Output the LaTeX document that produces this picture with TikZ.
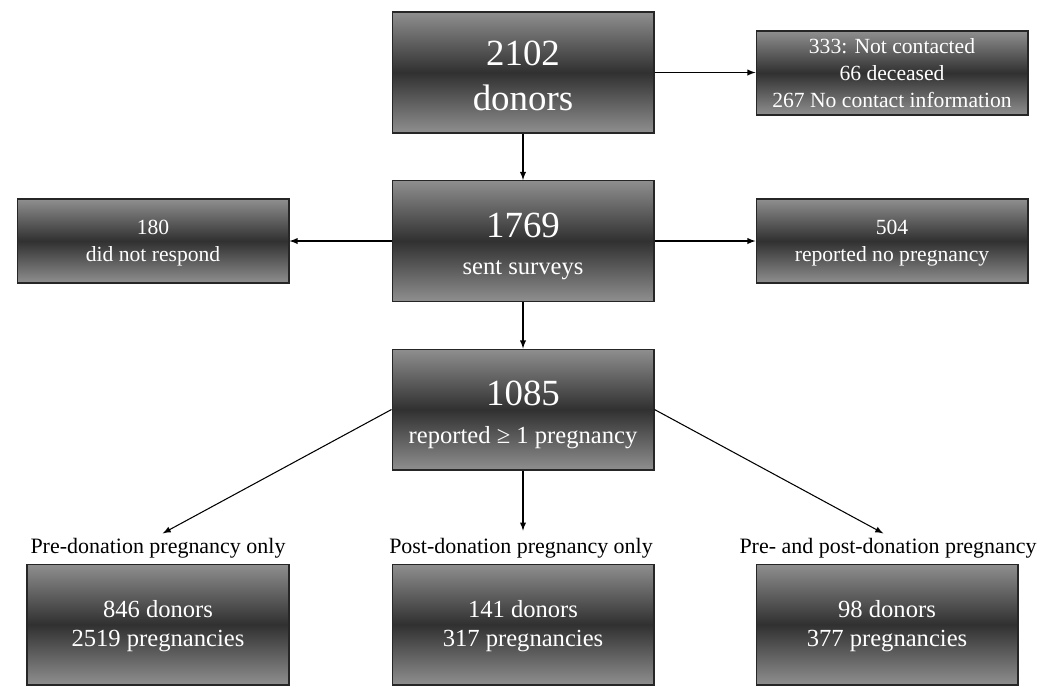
\documentclass[tikz,border=0pt]{standalone}
\usepackage{fontspec}
\setmainfont{Liberation Serif}
\usepackage{tikz}
\usetikzlibrary{arrows,positioning}
\definecolor{boxedge}{gray}{0.56}
\definecolor{boxcore}{gray}{0.19}

\begin{document}
\begin{tikzpicture}[x=0.02cm,y=-0.02cm,
  box/.style={draw=black!85,line width=0.6pt,top color=boxedge,bottom color=boxedge,
    middle color=boxcore,text=white,align=center,inner sep=0pt},
  bigbox/.style={box,minimum width=5.24cm,minimum height=2.42cm,
    font=\fontsize{14}{16.5}\selectfont},
  sidebox/.style={box,minimum width=5.44cm,minimum height=1.68cm,
    font=\fontsize{12.3}{15.5}\selectfont},
  grouplabel/.style={font=\fontsize{12.5}{15}\selectfont,inner sep=1pt},
  arr/.style={-latex,line width=0.6pt}
]
\useasboundingbox (0,0) rectangle (1050,698);

% main column
\node[bigbox,font=\fontsize{21}{26}\selectfont] (donors) at (523,72.5) {\rule{0pt}{18pt}2102\\donors};
\node[bigbox] (sent) at (523,241) {\rule{0pt}{20pt}{\fontsize{21}{25.5}\selectfont 1769}\\[5pt]sent surveys};
\node[bigbox] (reported) at (523,409.5) {\rule{0pt}{20pt}{\fontsize{21}{25.5}\selectfont 1085}\\[5pt]reported ≥ 1 pregnancy};

% side boxes
\node[sidebox,minimum width=5.44cm] (notcontacted) at (892,73)
  {333: Not contacted\\66 deceased\\267 No contact information};
\node[sidebox] (noresponse) at (153,241) {\rule{0pt}{11pt}180\\did not respond};
\node[sidebox] (nopregnancy) at (892,241) {\rule{0pt}{11pt}504\\reported no pregnancy};

% groups
\node[grouplabel] (prelabel) at (158,548) {Pre-donation pregnancy only};
\node[grouplabel] (postlabel) at (521,548) {Post-donation pregnancy only};
\node[grouplabel] (bothlabel) at (888,548) {Pre- and post-donation pregnancy};

\node[bigbox] (pre) at (158,624.5) {\rule{0pt}{12pt}846 donors\\2519 pregnancies};
\node[bigbox] (post) at (523,624.5) {\rule{0pt}{12pt}141 donors\\317 pregnancies};
\node[bigbox] (both) at (887,624.5) {\rule{0pt}{12pt}98 donors\\377 pregnancies};

\draw[arr] (donors) -- (notcontacted.west |- donors);
\draw[arr] (donors) -- (sent);
\draw[arr] (sent) -- (noresponse);
\draw[arr] (sent) -- (nopregnancy);
\draw[arr] (sent) -- (reported);
\draw[arr,shorten >=3pt] (reported.west) -- (prelabel.north);
\draw[arr,shorten >=3pt] (reported.south) -- (reported.south |- postlabel.north);
\draw[arr,shorten >=3pt] (reported.east) -- (bothlabel.north);
\end{tikzpicture}
\end{document}
